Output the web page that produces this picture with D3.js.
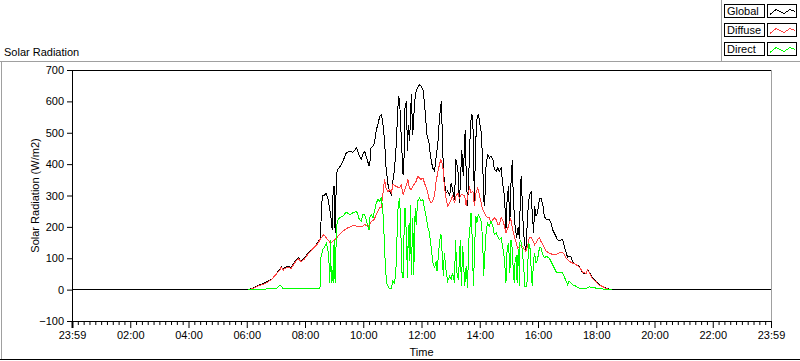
<!DOCTYPE html>
<html><head><meta charset="utf-8">
<script src="https://cdn.jsdelivr.net/npm/d3@7"></script>
<style>
body{margin:0;background:#fff;overflow:hidden;}
svg{display:block;font-family:"Liberation Sans",Arial,sans-serif;font-size:11px;}
</style></head><body>
<svg id="c" width="800" height="361"></svg>
<script>
// ---------- DATA (time in minutes of day, value in W/m2) ----------
const seriesNames = ["Global", "Diffuse", "Direct"];
const xTickLabels = ["23:59","02:00","04:00","06:00","08:00","10:00","12:00","14:00","16:00","18:00","20:00","22:00","23:59"];
const yTickValues = [-100, 0, 100, 200, 300, 400, 500, 600, 700];

const globalData = [[-1,0],[360,0],[362,0],[372,5],[382,13],[393,19],[403,27],[410,32],[420,51],[427,64],[430,74],[434,64],[437,70],[444,74],[451,70],[454,80],[461,96],[466,101],[471,90],[478,101],[485,117],[492,128],[499,138],[506,151],[511,165],[513,271],[516,300],[520,302],[522,308],[526,292],[530,255],[533,223],[535,191],[537,319],[539,330],[540,255],[541,181],[544,372],[547,385],[550,389],[557,409],[564,436],[571,441],[578,438],[585,452],[588,441],[591,425],[595,415],[598,430],[602,441],[605,425],[609,404],[611,393],[613,410],[615,452],[619,458],[622,468],[626,510],[629,525],[633,553],[636,558],[639,537],[643,473],[646,388],[650,335],[653,313],[657,303],[660,345],[663,377],[667,462],[670,569],[672,616],[674,600],[677,494],[681,367],[683,421],[685,579],[688,600],[690,441],[692,526],[694,473],[696,526],[698,622],[701,494],[705,600],[708,632],[711,643],[715,654],[718,648],[722,638],[724,611],[727,558],[730,494],[734,473],[738,420],[742,388],[746,377],[749,420],[753,473],[756,550],[760,600],[763,430],[766,340],[770,308],[773,315],[777,298],[780,340],[783,319],[787,287],[790,415],[794,383],[797,276],[799,340],[802,446],[805,361],[809,510],[811,372],[814,266],[818,436],[820,532],[823,558],[825,521],[827,361],[828,266],[830,446],[833,542],[836,558],[838,542],[842,500],[845,415],[847,287],[849,266],[852,393],[855,430],[859,420],[862,425],[866,415],[869,383],[873,377],[876,388],[879,377],[883,388],[886,340],[890,298],[893,191],[895,276],[898,329],[901,213],[903,330],[906,412],[908,300],[910,240],[912,200],[915,165],[918,200],[921,160],[923,345],[925,361],[927,245],[931,149],[934,128],[938,245],[941,298],[945,313],[947,245],[950,181],[952,266],[955,234],[958,245],[962,290],[965,292],[969,271],[972,234],[976,223],[982,223],[986,213],[989,191],[996,170],[999,159],[1003,157],[1010,159],[1013,138],[1017,117],[1020,103],[1023,106],[1027,104],[1030,90],[1034,83],[1037,80],[1040,77],[1044,74],[1047,66],[1051,53],[1054,50],[1058,53],[1061,64],[1065,55],[1071,37],[1078,27],[1085,16],[1092,11],[1099,5],[1106,2],[1112,0],[1439,0]];

const diffuseData = [[362,0],[372,4],[382,11],[393,17],[403,25],[410,32],[420,50],[427,62],[430,72],[434,62],[437,68],[444,70],[451,68],[454,76],[461,92],[466,98],[471,88],[478,98],[485,113],[492,125],[499,136],[506,148],[511,163],[516,172],[518,175],[523,165],[530,151],[533,149],[540,159],[547,170],[557,186],[567,197],[578,204],[588,202],[595,200],[602,207],[609,202],[615,215],[622,225],[626,240],[633,262],[636,262],[639,300],[643,351],[646,324],[650,313],[653,319],[657,308],[660,335],[667,329],[674,324],[677,335],[681,303],[688,335],[691,351],[694,324],[698,319],[701,329],[708,345],[711,361],[715,356],[718,351],[722,356],[725,340],[729,324],[732,308],[735,287],[739,276],[742,282],[746,303],[749,345],[753,377],[756,399],[759,415],[763,393],[766,329],[770,287],[773,266],[777,276],[780,287],[783,298],[787,276],[790,298],[794,308],[797,292],[801,303],[804,303],[808,298],[811,266],[814,298],[818,324],[821,308],[825,313],[828,266],[831,308],[835,324],[838,303],[842,276],[845,255],[849,245],[852,234],[855,229],[859,229],[862,213],[866,223],[869,229],[873,223],[876,207],[879,207],[883,229],[886,223],[890,202],[893,181],[897,197],[900,213],[903,225],[907,191],[910,170],[914,149],[917,133],[921,138],[924,143],[927,138],[931,128],[934,122],[938,143],[941,165],[945,165],[948,159],[952,143],[955,149],[958,159],[962,165],[965,154],[969,143],[972,133],[976,122],[982,117],[989,112],[996,112],[1003,117],[1010,117],[1013,112],[1017,101],[1023,90],[1030,85],[1037,80],[1044,72],[1051,56],[1058,52],[1061,62],[1065,54],[1071,36],[1078,26],[1085,15],[1092,10],[1099,4],[1106,1],[1112,0]];

const directData = [[362,0],[380,0],[400,2],[420,3],[427,13],[430,11],[434,2],[450,3],[470,2],[490,3],[505,3],[509,2],[511,16],[512,106],[516,128],[520,138],[523,147],[526,128],[528,106],[530,21],[532,159],[533,21],[535,64],[537,21],[539,159],[541,21],[544,202],[547,223],[550,229],[557,234],[564,247],[571,239],[578,245],[585,250],[588,239],[591,223],[595,218],[598,239],[602,239],[605,223],[609,197],[611,191],[613,234],[615,239],[619,229],[622,250],[626,276],[629,287],[633,282],[636,292],[639,260],[641,207],[643,133],[645,58],[648,16],[652,5],[657,5],[660,27],[663,21],[666,48],[668,143],[671,271],[674,292],[676,207],[679,48],[681,37],[683,175],[685,260],[688,175],[690,37],[692,207],[694,90],[696,271],[698,48],[701,229],[703,48],[706,260],[708,207],[711,282],[715,292],[718,282],[722,287],[725,260],[729,229],[732,197],[735,186],[739,133],[742,90],[746,69],[749,90],[751,58],[754,112],[756,150],[759,178],[762,106],[764,42],[766,117],[770,53],[773,27],[777,42],[780,32],[783,53],[787,21],[789,159],[792,53],[795,32],[799,159],[801,11],[804,138],[808,11],[811,74],[814,5],[816,149],[819,202],[821,245],[823,181],[826,11],[829,159],[831,234],[833,213],[836,239],[838,234],[842,218],[845,159],[847,42],[850,128],[852,181],[855,213],[859,202],[862,218],[866,202],[869,175],[873,181],[876,170],[879,159],[883,165],[886,138],[890,96],[893,21],[895,117],[898,149],[900,100],[901,53],[903,159],[905,149],[907,90],[910,21],[912,100],[914,106],[916,21],[917,96],[919,128],[921,11],[922,159],[925,149],[929,85],[932,11],[936,11],[938,85],[940,149],[943,128],[945,64],[947,11],[950,96],[952,117],[955,85],[958,96],[962,133],[965,133],[969,112],[972,101],[976,106],[982,101],[989,80],[996,58],[999,53],[1003,53],[1010,53],[1017,27],[1020,16],[1023,27],[1030,16],[1037,11],[1044,5],[1051,5],[1058,4],[1065,9],[1071,7],[1078,5],[1085,4],[1092,2],[1099,1],[1106,0],[1112,0]];

// ---------- STYLE ----------
const seriesColors = ["#000000", "#ff4040", "#00ff00"];
const allData = [globalData, diffuseData, directData];

const svg = d3.select("#c");
const L = 72, R = 771, T = 70, B = 321;
const x = d3.scaleLinear().domain([-1, 1439]).range([L, R]);
const y = d3.scaleLinear().domain([-100, 700]).range([B, T]);

// outer panel frame
const gray = "#a0a0a0";
svg.append("line").attr("x1",0).attr("x2",800).attr("y1",61.5).attr("y2",61.5).attr("stroke",gray);
svg.append("line").attr("x1",1.5).attr("x2",1.5).attr("y1",61).attr("y2",360).attr("stroke",gray);
svg.append("line").attr("x1",0).attr("x2",800).attr("y1",359.5).attr("y2",359.5).attr("stroke","#000");
svg.append("line").attr("x1",721.5).attr("x2",721.5).attr("y1",0).attr("y2",61).attr("stroke",gray);

// title
svg.append("text").attr("x",4).attr("y",55.5).text("Solar Radiation");

// plot frame
svg.append("line").attr("x1",L).attr("x2",R+1).attr("y1",T+0.5).attr("y2",T+0.5).attr("stroke","#000");
svg.append("line").attr("x1",R+0.5).attr("x2",R+0.5).attr("y1",T).attr("y2",B+1).attr("stroke",gray);

// clip
svg.append("clipPath").attr("id","clip").append("rect").attr("x",L+1).attr("y",T+1).attr("width",R-L-1).attr("height",B-T-1);

const line = d3.line().x(d => x(d[0])).y(d => y(d[1]));
const plot = svg.append("g").attr("clip-path","url(#clip)");
allData.forEach((data, i) => {
  plot.append("path").datum(data).attr("d", line)
    .attr("fill","none").attr("stroke", seriesColors[i]).attr("stroke-width",1)
    .attr("shape-rendering","crispEdges");
});

// y axis
const yAxis = d3.axisLeft(y).tickValues(yTickValues).tickSize(5).tickPadding(3).tickSizeOuter(0);
const gy = svg.append("g").attr("transform",`translate(${L},0)`).call(yAxis);
gy.select(".domain").remove();
gy.selectAll("text").attr("font-family","Liberation Sans, Arial, sans-serif").attr("font-size",11).attr("fill","#000");
gy.selectAll("line").attr("stroke","#000");
svg.append("line").attr("x1",L+0.5).attr("x2",L+0.5).attr("y1",T).attr("y2",B+1).attr("stroke","#000");

// x axis
const majorTicks = xTickLabels.map((_, i) => -1 + 120 * i);
const minorTicks = d3.range(-1, 1440, 12).filter(v => (v + 1) % 120 !== 0);
const gxMinor = svg.append("g").attr("transform",`translate(0,${B+1})`)
  .call(d3.axisBottom(x).tickValues(minorTicks).tickSize(3).tickFormat(""));
gxMinor.select(".domain").remove();
gxMinor.selectAll("line").attr("stroke","#000");
const gx = svg.append("g").attr("transform",`translate(0,${B+1})`)
  .call(d3.axisBottom(x).tickValues(majorTicks).tickSize(6).tickPadding(3).tickFormat((d, i) => xTickLabels[i]));
gx.select(".domain").remove();
gx.selectAll("line").attr("stroke","#000");
gx.selectAll(".tick").filter((d, i) => i === 0).select("line").attr("stroke-width",2);
gx.selectAll("text").attr("font-family","Liberation Sans, Arial, sans-serif").attr("font-size",11).attr("fill","#000");
svg.append("line").attr("x1",L).attr("x2",R+1).attr("y1",B+0.5).attr("y2",B+0.5).attr("stroke","#000");

// axis titles
svg.append("text").attr("x",(L+R)/2).attr("y",356).attr("text-anchor","middle").text("Time");
svg.append("text").attr("transform",`translate(39,${(T+B)/2}) rotate(-90)`).attr("text-anchor","middle").text("Solar Radiation (W/m2)");

// legend
const legend = svg.append("g");
seriesNames.forEach((name, i) => {
  const top = 4.5 + i * 19;
  const g = legend.append("g").attr("transform",`translate(0,${top})`);
  g.append("rect").attr("x",724.5).attr("y",0).attr("width",40).attr("height",13).attr("fill","#fff").attr("stroke","#000");
  g.append("text").attr("x",727).attr("y",10.5).text(name);
  g.append("rect").attr("x",767.5).attr("y",0).attr("width",29).attr("height",13).attr("fill","#fff").attr("stroke","#000");
  const pts = [[770,10],[776,5],[784,9],[790,5],[795,7]];
  g.append("path").attr("d", d3.line()(pts)).attr("fill","none").attr("stroke",seriesColors[i]).attr("shape-rendering","crispEdges");
});
</script>
</body></html>
